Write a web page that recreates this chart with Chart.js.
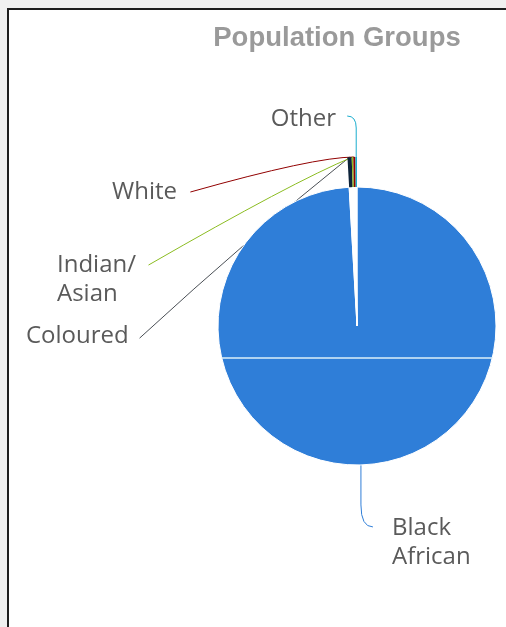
<!DOCTYPE html>
<html>
<head>
<meta charset="utf-8">
<script src="https://cdn.jsdelivr.net/npm/chart.js@4/dist/chart.umd.min.js"></script>
<style>
  body { margin: 0; background: #f0f0f0; overflow: hidden; }
  #box {
    position: absolute; left: 7px; top: 8px; width: 700px; height: 700px;
    border-top: 2px solid #1e1e1e; border-left: 2px solid #1e1e1e;
    background: #fff;
  }
  #title {
    position: absolute; left: 0; top: 11px; width: 656px; text-align: center;
    font: bold 27.5px "Liberation Sans", Arial, sans-serif; line-height: 32px;
    color: #9a9a9a;
  }
  #pie { position: absolute; left: 0; top: 0; }
</style>
</head>
<body>
<div id="box">
  <canvas id="pie" width="656" height="640"></canvas>
  <div id="title">Population Groups</div>
</div>
<script>
// population share by group (%)
const categories = ['Black African', 'Coloured', 'Indian/Asian', 'White', 'Other'];
const shares = [99.1, 0.4, 0.15, 0.2, 0.15];
const colors = ['#2f7ed8', '#0d233a', '#8bbc21', '#910000', '#1aadce'];

// label layout, relative to the pie centre / connector anchor
const labelLines = [['Black', 'African'], ['Coloured'], ['Indian/', 'Asian'], ['White'], ['Other']];
const labelSpots = [
    { dx: 35, dy: 202, align: 'left' },
    { dx: -331, dy: 10, align: 'left' },
    { dx: -300, dy: -61, align: 'left' },
    { dx: -180, dy: -134, align: 'right' },
    { dx: -21, dy: -207, align: 'right' }
];

function anchorOf(chart, i) {
    // small slices sit in the outer ring, the big one in the inner pie
    let ring = i === 0 ? 1 : 0;
    let arc = chart.getDatasetMeta(ring).data[i];
    let mid = (arc.startAngle + arc.endAngle) / 2;
    return {
        x: arc.x + Math.cos(mid) * arc.outerRadius,
        y: arc.y + Math.sin(mid) * arc.outerRadius,
        cx: arc.x, cy: arc.y, r: arc.outerRadius
    };
}

const pieLabels = {
    id: 'pieLabels',
    beforeDatasetsDraw(chart) {
        let ctx = chart.ctx;
        ctx.save();
        ctx.lineWidth = 1;
        for (let i = 0; i < categories.length; i++) {
            let a = anchorOf(chart, i);
            ctx.strokeStyle = i === 1 ? '#4a4f55' : colors[i];
            ctx.beginPath();
            if (i === 0) {
                ctx.moveTo(a.x, a.y);
                ctx.lineTo(a.x, a.y + 40);
                ctx.quadraticCurveTo(a.x, a.y + 62, a.x + 12, a.y + 62);
            } else if (i === 4) {
                ctx.moveTo(a.x - 9, a.y - 41);
                ctx.quadraticCurveTo(a.x, a.y - 41, a.x, a.y - 29);
                ctx.lineTo(a.x, a.y);
            } else if (i === 3) {
                ctx.moveTo(a.x - 164, a.y + 35);
                ctx.quadraticCurveTo(a.x - 40, a.y, a.x, a.y);
            } else if (i === 2) {
                ctx.moveTo(a.x - 204, a.y + 108);
                ctx.quadraticCurveTo(a.x - 60, a.y + 25, a.x, a.y);
            } else {
                ctx.moveTo(a.x - 210, a.y + 181);
                ctx.quadraticCurveTo(a.x - 100, a.y + 80, a.x, a.y);
            }
            ctx.stroke();
        }
        ctx.restore();
    },
    afterDatasetsDraw(chart) {
        let ctx = chart.ctx;
        let a = anchorOf(chart, 0);
        ctx.save();
        // thin light seam across the pie
        let dy = 32;
        let half = Math.sqrt(a.r * a.r - dy * dy);
        ctx.strokeStyle = '#dcf0fa';
        ctx.lineWidth = 1.5;
        ctx.beginPath();
        ctx.moveTo(a.cx - half, a.cy + dy);
        ctx.lineTo(a.cx + half, a.cy + dy);
        ctx.stroke();

        ctx.font = '24px "Open Sans", sans-serif';
        ctx.fillStyle = '#5a5a5a';
        ctx.textBaseline = 'middle';
        labelLines.forEach((lines, i) => {
            let s = labelSpots[i];
            ctx.textAlign = s.align;
            lines.forEach((t, k) => {
                ctx.fillText(t, a.cx + s.dx, a.cy + s.dy + k * 29);
            });
        });
        ctx.restore();
    }
};

new Chart(document.getElementById('pie'), {
    type: 'pie',
    data: {
        labels: categories,
        datasets: [{
            // outer ring: only the small groups show
            data: shares,
            weight: 30,
            backgroundColor: colors.map((c, i) => i === 0 ? 'rgba(0,0,0,0)' : c),
            borderWidth: 0
        }, {
            data: shares,
            weight: 139,
            backgroundColor: colors.map((c, i) => i === 0 ? c : '#ffffff'),
            borderColor: '#ffffff',
            borderWidth: 1
        }]
    },
    plugins: [pieLabels],
    options: {
        responsive: false,
        animation: false,
        radius: 169,
        layout: { padding: { left: 40, bottom: 8 } },
        plugins: {
            legend: { display: false },
            tooltip: { enabled: false }
        },
        events: []
    }
});
</script>
</body>
</html>
